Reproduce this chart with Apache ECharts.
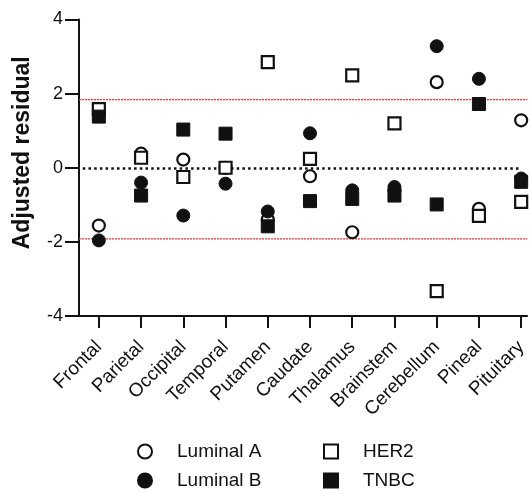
<!DOCTYPE html>
<html>
<head>
<meta charset="utf-8">
<script src="https://cdn.jsdelivr.net/npm/echarts@6/dist/echarts.min.js"></script>
<style>
  html, body { margin: 0; padding: 0; background: #fff; }
  #main { width: 530px; height: 494px; }
</style>
</head>
<body>
<div id="main"></div>
<script>
"use strict";

// brain regions
const categories = ['Frontal', 'Parietal', 'Occipital', 'Temporal', 'Putamen', 'Caudate',
  'Thalamus', 'Brainstem', 'Cerebellum', 'Pineal', 'Pituitary'];

// adjusted residuals per subtype
const luminalA = [-1.56, 0.38, 0.22, 0.0, -1.4, -0.23, -1.74, -0.6, 2.31, -1.11, 1.28];
const luminalB = [-1.96, -0.4, -1.29, -0.43, -1.18, 0.93, -0.61, -0.52, 3.28, 2.4, -0.29];
const her2 = [1.58, 0.27, -0.25, 0.0, 2.85, 0.24, 2.49, 1.2, -3.33, -1.3, -0.92];
const tnbc = [1.38, -0.75, 1.03, 0.92, -1.58, -0.9, -0.84, -0.75, -0.99, 1.72, -0.38];

const cutoffs = [1.84, -1.92];

const FONT = 'Liberation Sans, Arial, Helvetica, sans-serif';
const X_MIN = -0.47, X_MAX = 10.14;
const idx = categories.map((c, i) => i);

function pts(arr) {
  return arr.map((v, i) => [i, v]);
}

let myChart = echarts.init(document.getElementById('main'), null, { renderer: 'canvas' });

const openStyle = { color: '#fff', borderColor: '#111', borderWidth: 2.2, opacity: 1 };
const fillStyle = { color: '#111', borderColor: '#111', borderWidth: 1, opacity: 1 };

const legendBase = {
  orient: 'vertical', top: 442, padding: 0,
  itemWidth: 14, itemHeight: 14, itemGap: 10,
  textStyle: { fontSize: 19, color: '#111', fontFamily: FONT, padding: [0, 0, 0, 20] },
};

// red dotted cut-off lines, one line series each
const cutoffSeries = cutoffs.map((c, i) => ({
  name: 'cutoff' + i,
  type: 'line',
  silent: true,
  symbol: 'none',
  z: 1,
  lineStyle: { color: '#ff3030', width: 1.2, type: [2, 1] },
  data: [[X_MIN, c], [X_MAX, c]],
}));

let option = {
  animation: false,
  textStyle: { fontFamily: FONT },
  grid: { left: 79, right: 0, top: 19.5, bottom: 178 },
  legend: [
    Object.assign({}, legendBase, { left: 137, data: ['Luminal A', 'Luminal B'] }), // left column
    Object.assign({}, legendBase, { left: 323, data: ['HER2', 'TNBC'] }), // right column
  ],
  xAxis: {
    type: 'value',
    min: X_MIN,
    max: X_MAX,
    splitLine: { show: false },
    axisLine: { onZero: false, lineStyle: { color: '#111', width: 2 } },
    axisTick: { show: true, length: 12, lineStyle: { color: '#111', width: 2 }, customValues: idx },
    axisLabel: {
      customValues: idx,
      rotate: 45,
      margin: 28,
      fontSize: 19,
      color: '#111',
      fontFamily: FONT,
      formatter: v => categories[Math.round(v)],
    },
  },
  yAxis: {
    type: 'value',
    min: -4,
    max: 4,
    interval: 2,
    name: 'Adjusted residual',
    nameLocation: 'middle',
    nameGap: 45,
    nameTextStyle: { fontSize: 23, fontWeight: 'bold', color: '#111', fontFamily: FONT, padding: [0, 0, 0, 30] },
    splitLine: { show: false },
    axisLine: { show: true, onZero: false, lineStyle: { color: '#111', width: 2 } },
    axisTick: { show: true, length: 14, lineStyle: { color: '#111', width: 2 } },
    axisLabel: { margin: 16, fontSize: 18, color: '#111', fontFamily: FONT },
  },
  series: [
    ...cutoffSeries,
    {
      name: 'Luminal A', type: 'scatter', symbol: 'circle', symbolSize: 12,
      itemStyle: openStyle, data: pts(luminalA), z: 3,
      markLine: { // zero line
        silent: true, symbol: 'none', label: { show: false },
        lineStyle: { color: '#111', width: 2.5, type: [2.5, 3.2] },
        data: [[{ coord: [-0.38, 0] }, { coord: [9.95, 0] }]],
      },
    },
    {
      name: 'Luminal B', type: 'scatter', symbol: 'circle', symbolSize: 13,
      itemStyle: fillStyle, data: pts(luminalB), z: 4,
    },
    {
      name: 'HER2', type: 'scatter', symbol: 'rect', symbolSize: 12,
      itemStyle: openStyle, data: pts(her2), z: 5,
    },
    {
      name: 'TNBC', type: 'scatter', symbol: 'rect', symbolSize: 13,
      itemStyle: fillStyle, data: pts(tnbc), z: 6,
    },
  ],
};

myChart.setOption(option);
</script>
</body>
</html>
